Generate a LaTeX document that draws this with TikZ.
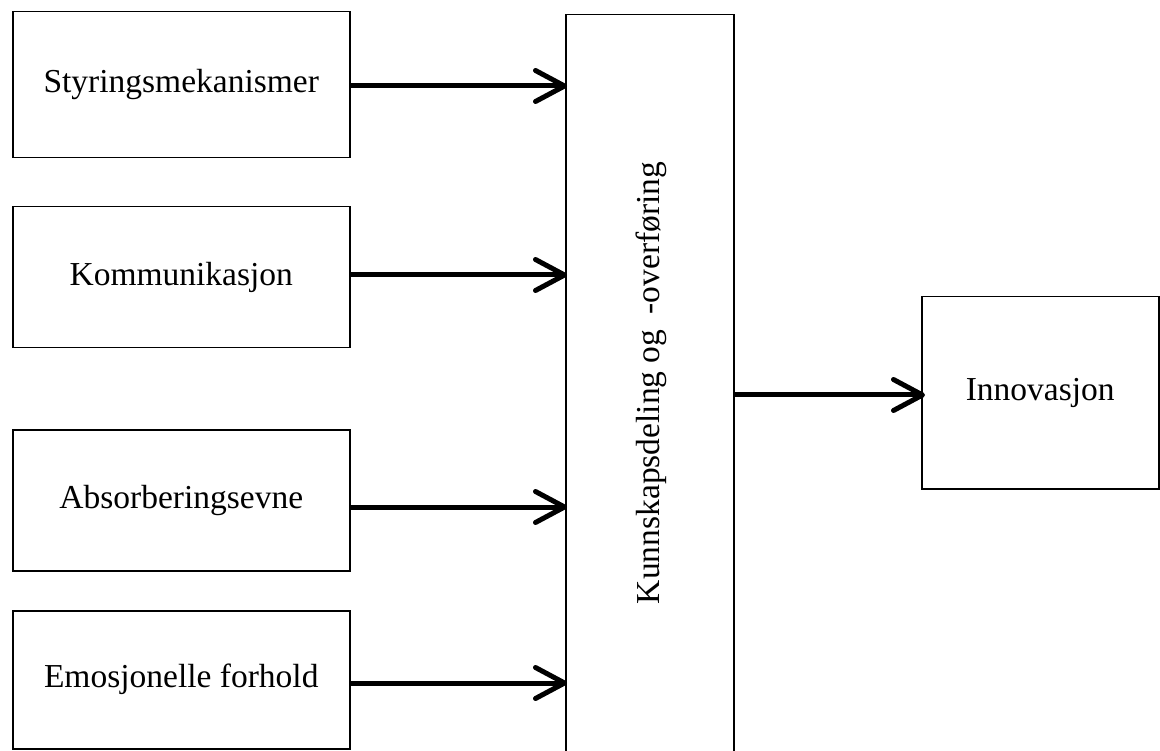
\documentclass[tikz,border=0pt]{standalone}
\usepackage{fontspec}
\setmainfont{Liberation Serif}
\usetikzlibrary{arrows.meta}
\begin{document}
\begin{tikzpicture}[x=1pt,y=-1pt,
  box/.style={draw=black,line width=1.5pt,fill=white,rectangle,inner sep=0pt,anchor=north west,font=\fontsize{33.5}{38}\selectfont},
  arr/.style={line width=5pt,-{Straight Barb[length=29pt,width=31pt,line cap=round,line join=round]}}]
\useasboundingbox (0,0) rectangle (1160,751);
\clip (0,0) rectangle (1160,751);
\fill[white] (0,0) rectangle (1160,751);
\node[box,minimum width=337pt,minimum height=146pt] (s) at (12,11) {Styringsmekanismer};
\node[box,minimum width=337pt,minimum height=141pt] (ko) at (12,206) {Kommunikasjon};
\node[box,minimum width=337pt,minimum height=141pt] (ab) at (12,429) {Absorberingsevne};
\node[box,minimum width=337pt,minimum height=138pt] (em) at (12,610) {Emosjonelle forhold};
\node[box,minimum width=168pt,minimum height=760pt] (k) at (565,14) {};
\node[font=\fontsize{33.5}{38}\selectfont,rotate=90,inner sep=0pt] (kt) at (651,383) {Kunnskapsdeling og\hspace{0.45em}-overføring};
\node[box,minimum width=237pt,minimum height=192pt] (in) at (921,296) {Innovasjon};
\draw[arr] (s.east |- 0,86) -- ([xshift=2pt]k.west |- 0,86);
\draw[arr] (ko.east |- 0,275) -- ([xshift=2pt]k.west |- 0,275);
\draw[arr] (ab.east |- 0,507) -- ([xshift=2pt]k.west |- 0,507);
\draw[arr] (em.east |- 0,683) -- ([xshift=2pt]k.west |- 0,683);
\draw[arr] (k.east |- 0,395) -- ([xshift=4pt]in.west |- 0,395);
\end{tikzpicture}
\end{document}
